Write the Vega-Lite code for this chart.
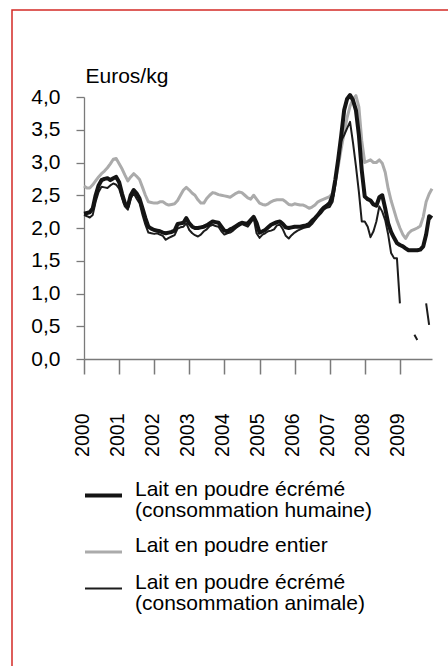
{
  "$schema": "https://vega.github.io/schema/vega-lite/v6.json",
  "width": 600,
  "height": 800,
  "autosize": {"type": "none"},
  "padding": {"left": 12, "top": 10, "right": -164, "bottom": -144},
  "background": "white",
  "view": {"stroke": "#d42a26", "strokeWidth": 1.5},
  "config": {"font": "Liberation Sans"},
  "data": {"values": [
    {"date": "2000-01-01", "humaine": 2.22, "entier": 2.64, "animale": 2.20},
    {"date": "2000-02-01", "humaine": 2.23, "entier": 2.61, "animale": 2.18},
    {"date": "2000-03-01", "humaine": 2.24, "entier": 2.61, "animale": 2.16},
    {"date": "2000-04-01", "humaine": 2.30, "entier": 2.66, "animale": 2.20},
    {"date": "2000-05-01", "humaine": 2.50, "entier": 2.72, "animale": 2.40},
    {"date": "2000-06-01", "humaine": 2.65, "entier": 2.78, "animale": 2.55},
    {"date": "2000-07-01", "humaine": 2.73, "entier": 2.83, "animale": 2.63},
    {"date": "2000-08-01", "humaine": 2.75, "entier": 2.87, "animale": 2.62},
    {"date": "2000-09-01", "humaine": 2.76, "entier": 2.92, "animale": 2.61},
    {"date": "2000-10-01", "humaine": 2.73, "entier": 2.98, "animale": 2.65},
    {"date": "2000-11-01", "humaine": 2.76, "entier": 3.05, "animale": 2.68},
    {"date": "2000-12-01", "humaine": 2.78, "entier": 3.06, "animale": 2.66},
    {"date": "2001-01-01", "humaine": 2.70, "entier": 2.98, "animale": 2.60},
    {"date": "2001-02-01", "humaine": 2.52, "entier": 2.90, "animale": 2.45},
    {"date": "2001-03-01", "humaine": 2.38, "entier": 2.81, "animale": 2.33},
    {"date": "2001-04-01", "humaine": 2.33, "entier": 2.72, "animale": 2.28},
    {"date": "2001-05-01", "humaine": 2.50, "entier": 2.78, "animale": 2.45},
    {"date": "2001-06-01", "humaine": 2.58, "entier": 2.83, "animale": 2.53},
    {"date": "2001-07-01", "humaine": 2.53, "entier": 2.79, "animale": 2.45},
    {"date": "2001-08-01", "humaine": 2.45, "entier": 2.74, "animale": 2.38},
    {"date": "2001-09-01", "humaine": 2.30, "entier": 2.62, "animale": 2.20},
    {"date": "2001-10-01", "humaine": 2.15, "entier": 2.50, "animale": 2.05},
    {"date": "2001-11-01", "humaine": 2.02, "entier": 2.40, "animale": 1.93},
    {"date": "2001-12-01", "humaine": 1.99, "entier": 2.39, "animale": 1.92},
    {"date": "2002-01-01", "humaine": 1.97, "entier": 2.38, "animale": 1.91},
    {"date": "2002-02-01", "humaine": 1.96, "entier": 2.38, "animale": 1.92},
    {"date": "2002-03-01", "humaine": 1.95, "entier": 2.40, "animale": 1.90},
    {"date": "2002-04-01", "humaine": 1.93, "entier": 2.40, "animale": 1.88},
    {"date": "2002-05-01", "humaine": 1.92, "entier": 2.37, "animale": 1.82},
    {"date": "2002-06-01", "humaine": 1.93, "entier": 2.35, "animale": 1.85},
    {"date": "2002-07-01", "humaine": 1.94, "entier": 2.36, "animale": 1.87},
    {"date": "2002-08-01", "humaine": 1.96, "entier": 2.37, "animale": 1.89},
    {"date": "2002-09-01", "humaine": 2.06, "entier": 2.42, "animale": 1.99},
    {"date": "2002-10-01", "humaine": 2.07, "entier": 2.50, "animale": 2.01},
    {"date": "2002-11-01", "humaine": 2.08, "entier": 2.58, "animale": 2.02},
    {"date": "2002-12-01", "humaine": 2.15, "entier": 2.62, "animale": 2.07},
    {"date": "2003-01-01", "humaine": 2.07, "entier": 2.58, "animale": 1.97},
    {"date": "2003-02-01", "humaine": 2.02, "entier": 2.53, "animale": 1.92},
    {"date": "2003-03-01", "humaine": 2.00, "entier": 2.50, "animale": 1.89},
    {"date": "2003-04-01", "humaine": 2.00, "entier": 2.43, "animale": 1.87},
    {"date": "2003-05-01", "humaine": 2.01, "entier": 2.38, "animale": 1.90},
    {"date": "2003-06-01", "humaine": 2.02, "entier": 2.38, "animale": 1.95},
    {"date": "2003-07-01", "humaine": 2.04, "entier": 2.45, "animale": 1.98},
    {"date": "2003-08-01", "humaine": 2.07, "entier": 2.50, "animale": 2.03},
    {"date": "2003-09-01", "humaine": 2.10, "entier": 2.54, "animale": 2.05},
    {"date": "2003-10-01", "humaine": 2.09, "entier": 2.53, "animale": 2.03},
    {"date": "2003-11-01", "humaine": 2.08, "entier": 2.51, "animale": 2.02},
    {"date": "2003-12-01", "humaine": 2.02, "entier": 2.50, "animale": 1.95},
    {"date": "2004-01-01", "humaine": 1.96, "entier": 2.49, "animale": 1.90},
    {"date": "2004-02-01", "humaine": 1.95, "entier": 2.48, "animale": 1.92},
    {"date": "2004-03-01", "humaine": 1.98, "entier": 2.47, "animale": 1.93},
    {"date": "2004-04-01", "humaine": 2.00, "entier": 2.50, "animale": 1.96},
    {"date": "2004-05-01", "humaine": 2.03, "entier": 2.53, "animale": 2.00},
    {"date": "2004-06-01", "humaine": 2.06, "entier": 2.55, "animale": 2.03},
    {"date": "2004-07-01", "humaine": 2.08, "entier": 2.54, "animale": 2.06},
    {"date": "2004-08-01", "humaine": 2.07, "entier": 2.50, "animale": 2.04},
    {"date": "2004-09-01", "humaine": 2.07, "entier": 2.46, "animale": 2.02},
    {"date": "2004-10-01", "humaine": 2.12, "entier": 2.44, "animale": 2.08},
    {"date": "2004-11-01", "humaine": 2.17, "entier": 2.50, "animale": 2.15},
    {"date": "2004-12-01", "humaine": 2.08, "entier": 2.44, "animale": 1.92},
    {"date": "2005-01-01", "humaine": 1.93, "entier": 2.38, "animale": 1.85},
    {"date": "2005-02-01", "humaine": 1.95, "entier": 2.36, "animale": 1.90},
    {"date": "2005-03-01", "humaine": 1.97, "entier": 2.35, "animale": 1.92},
    {"date": "2005-04-01", "humaine": 2.01, "entier": 2.37, "animale": 1.95},
    {"date": "2005-05-01", "humaine": 2.05, "entier": 2.40, "animale": 1.96},
    {"date": "2005-06-01", "humaine": 2.07, "entier": 2.42, "animale": 1.98},
    {"date": "2005-07-01", "humaine": 2.09, "entier": 2.43, "animale": 2.04},
    {"date": "2005-08-01", "humaine": 2.10, "entier": 2.43, "animale": 2.05},
    {"date": "2005-09-01", "humaine": 2.06, "entier": 2.43, "animale": 1.98},
    {"date": "2005-10-01", "humaine": 2.01, "entier": 2.40, "animale": 1.88},
    {"date": "2005-11-01", "humaine": 2.00, "entier": 2.36, "animale": 1.84},
    {"date": "2005-12-01", "humaine": 2.01, "entier": 2.35, "animale": 1.89},
    {"date": "2006-01-01", "humaine": 2.02, "entier": 2.37, "animale": 1.93},
    {"date": "2006-02-01", "humaine": 2.02, "entier": 2.36, "animale": 1.96},
    {"date": "2006-03-01", "humaine": 2.02, "entier": 2.35, "animale": 1.98},
    {"date": "2006-04-01", "humaine": 2.03, "entier": 2.35, "animale": 2.00},
    {"date": "2006-05-01", "humaine": 2.04, "entier": 2.33, "animale": 2.01},
    {"date": "2006-06-01", "humaine": 2.06, "entier": 2.30, "animale": 2.02},
    {"date": "2006-07-01", "humaine": 2.11, "entier": 2.32, "animale": 2.06},
    {"date": "2006-08-01", "humaine": 2.15, "entier": 2.35, "animale": 2.12},
    {"date": "2006-09-01", "humaine": 2.20, "entier": 2.40, "animale": 2.18},
    {"date": "2006-10-01", "humaine": 2.26, "entier": 2.42, "animale": 2.22},
    {"date": "2006-11-01", "humaine": 2.31, "entier": 2.44, "animale": 2.28},
    {"date": "2006-12-01", "humaine": 2.34, "entier": 2.46, "animale": 2.31},
    {"date": "2007-01-01", "humaine": 2.38, "entier": 2.48, "animale": 2.32},
    {"date": "2007-02-01", "humaine": 2.50, "entier": 2.53, "animale": 2.40},
    {"date": "2007-03-01", "humaine": 2.74, "entier": 2.70, "animale": 2.65},
    {"date": "2007-04-01", "humaine": 3.06, "entier": 2.95, "animale": 3.05},
    {"date": "2007-05-01", "humaine": 3.41, "entier": 3.21, "animale": 3.33},
    {"date": "2007-06-01", "humaine": 3.80, "entier": 3.46, "animale": 3.42},
    {"date": "2007-07-01", "humaine": 3.97, "entier": 3.68, "animale": 3.52},
    {"date": "2007-08-01", "humaine": 4.03, "entier": 3.86, "animale": 3.62},
    {"date": "2007-09-01", "humaine": 3.95, "entier": 3.97, "animale": 3.30},
    {"date": "2007-10-01", "humaine": 3.80, "entier": 4.02, "animale": 2.95},
    {"date": "2007-11-01", "humaine": 3.42, "entier": 3.85, "animale": 2.55},
    {"date": "2007-12-01", "humaine": 2.88, "entier": 3.33, "animale": 2.10},
    {"date": "2008-01-01", "humaine": 2.48, "entier": 3.00, "animale": 2.10},
    {"date": "2008-02-01", "humaine": 2.44, "entier": 3.02, "animale": 2.02},
    {"date": "2008-03-01", "humaine": 2.42, "entier": 3.04, "animale": 1.86},
    {"date": "2008-04-01", "humaine": 2.36, "entier": 3.00, "animale": 1.95},
    {"date": "2008-05-01", "humaine": 2.34, "entier": 3.00, "animale": 2.10},
    {"date": "2008-06-01", "humaine": 2.47, "entier": 3.04, "animale": 2.33},
    {"date": "2008-07-01", "humaine": 2.50, "entier": 2.99, "animale": 2.25},
    {"date": "2008-08-01", "humaine": 2.30, "entier": 2.85, "animale": 2.12},
    {"date": "2008-09-01", "humaine": 2.07, "entier": 2.60, "animale": 1.90},
    {"date": "2008-10-01", "humaine": 1.94, "entier": 2.42, "animale": 1.62},
    {"date": "2008-11-01", "humaine": 1.85, "entier": 2.27, "animale": 1.54},
    {"date": "2008-12-01", "humaine": 1.77, "entier": 2.12, "animale": 1.54},
    {"date": "2009-01-01", "humaine": 1.74, "entier": 2.00, "animale": 0.85},
    {"date": "2009-02-01", "humaine": 1.72, "entier": 1.90, "animale": null},
    {"date": "2009-03-01", "humaine": 1.69, "entier": 1.84, "animale": null},
    {"date": "2009-04-01", "humaine": 1.66, "entier": 1.92, "animale": null},
    {"date": "2009-05-01", "humaine": 1.66, "entier": 1.96, "animale": null},
    {"date": "2009-06-01", "humaine": 1.66, "entier": 1.98, "animale": 0.37},
    {"date": "2009-07-01", "humaine": 1.66, "entier": 2.00, "animale": 0.29},
    {"date": "2009-08-01", "humaine": 1.67, "entier": 2.03, "animale": null},
    {"date": "2009-09-01", "humaine": 1.72, "entier": 2.17, "animale": null},
    {"date": "2009-10-01", "humaine": 1.90, "entier": 2.40, "animale": 0.85},
    {"date": "2009-11-01", "humaine": 2.18, "entier": 2.52, "animale": 0.52},
    {"date": "2009-12-01", "humaine": 2.15, "entier": 2.60, "animale": null}
  ]},
  "transform": [
    {"fold": ["entier", "animale", "humaine"], "as": ["cle", "prix"]},
    {"lookup": "cle", "from": {"data": {"values": [
      {"cle": "humaine", "serie": "Lait en poudre écrémé (consommation humaine)"},
      {"cle": "entier", "serie": "Lait en poudre entier"},
      {"cle": "animale", "serie": "Lait en poudre écrémé (consommation animale)"}
    ]}, "key": "cle", "fields": ["serie"]}}
  ],
  "mark": {"type": "line", "strokeJoin": "round", "strokeCap": "butt"},
  "encoding": {
    "x": {
      "field": "date", "type": "temporal",
      "scale": {"type": "utc", "nice": false, "range": [72, 420], "domain": [{"year": 2000, "month": 1, "date": 1, "utc": true}, {"year": 2009, "month": 12, "date": 1, "utc": true}]},
      "axis": {
        "title": null, "grid": false, "format": "%Y", "offset": -451,
        "values": [{"year": 2000, "utc": true}, {"year": 2001, "utc": true}, {"year": 2002, "utc": true}, {"year": 2003, "utc": true}, {"year": 2004, "utc": true}, {"year": 2005, "utc": true}, {"year": 2006, "utc": true}, {"year": 2007, "utc": true}, {"year": 2008, "utc": true}, {"year": 2009, "utc": true}],
        "labelAngle": -90, "labelFontSize": 19.5, "labelColor": "#000000", "labelPadding": 39, "labelOffset": -2,
        "ticks": true, "tickSize": 15, "tickColor": "#7a7a7a", "tickWidth": 1.5,
        "domainColor": "#7a7a7a", "domainWidth": 1.3, "labelFlush": false, "labelOverlap": false
      }
    },
    "y": {
      "field": "prix", "type": "quantitative",
      "scale": {"domain": [0, 4], "nice": false, "range": [349, 87]},
      "axis": {
        "values": [0, 0.5, 1, 1.5, 2, 2.5, 3, 3.5, 4], "offset": -72,
        "labelExpr": "replace(format(datum.value, '.1f'), '.', ',')",
        "grid": false, "tickSize": 8, "labelPadding": 16, "labelFontSize": 21, "labelColor": "#000000",
        "tickColor": "#7a7a7a", "tickWidth": 1.3, "domainColor": "#7a7a7a", "domainWidth": 1.3,
        "title": "Euros/kg", "titleAngle": 0, "titleAlign": "left", "titleBaseline": "alphabetic",
        "titleX": 1, "titleY": 72, "titleFontSize": 21, "titleFontWeight": "normal", "titleColor": "#000000"
      }
    },
    "color": {
      "field": "serie", "type": "ordinal",
      "scale": {"domain": ["Lait en poudre écrémé (consommation humaine)", "Lait en poudre entier", "Lait en poudre écrémé (consommation animale)"], "range": ["#141414", "#ababab", "#1c1c1c"]},
      "legend": {
        "orient": "none", "legendX": 71, "legendY": 465, "title": null, "direction": "vertical",
        "symbolType": "stroke", "symbolSize": 1369, "labelFontSize": 21, "labelOffset": 11, "rowPadding": 11,
        "labelLimit": 0, "padding": 0, "labelColor": "#000000", "labelBaseline": "alphabetic",
        "encode": {"labels": {"update": {"lineHeight": {"value": 21}}}},
        "labelExpr": "indexof(datum.label, ' (') > 0 ? [slice(datum.label, 0, indexof(datum.label, ' (')), slice(datum.label, indexof(datum.label, ' (') + 1)] : datum.label"
      }
    },
    "strokeWidth": {
      "field": "serie", "type": "ordinal",
      "scale": {"domain": ["Lait en poudre écrémé (consommation humaine)", "Lait en poudre entier", "Lait en poudre écrémé (consommation animale)"], "range": [4, 2, 1.6]},
      "legend": {
        "orient": "none", "legendX": 71, "legendY": 465, "title": null, "direction": "vertical",
        "symbolType": "stroke", "symbolSize": 1369, "labelFontSize": 21, "labelOffset": 11, "rowPadding": 11,
        "labelLimit": 0, "padding": 0, "labelColor": "#000000", "labelBaseline": "alphabetic",
        "encode": {"labels": {"update": {"lineHeight": {"value": 21}}}},
        "labelExpr": "indexof(datum.label, ' (') > 0 ? [slice(datum.label, 0, indexof(datum.label, ' (')), slice(datum.label, indexof(datum.label, ' (') + 1)] : datum.label"
      }
    }
  }
}
